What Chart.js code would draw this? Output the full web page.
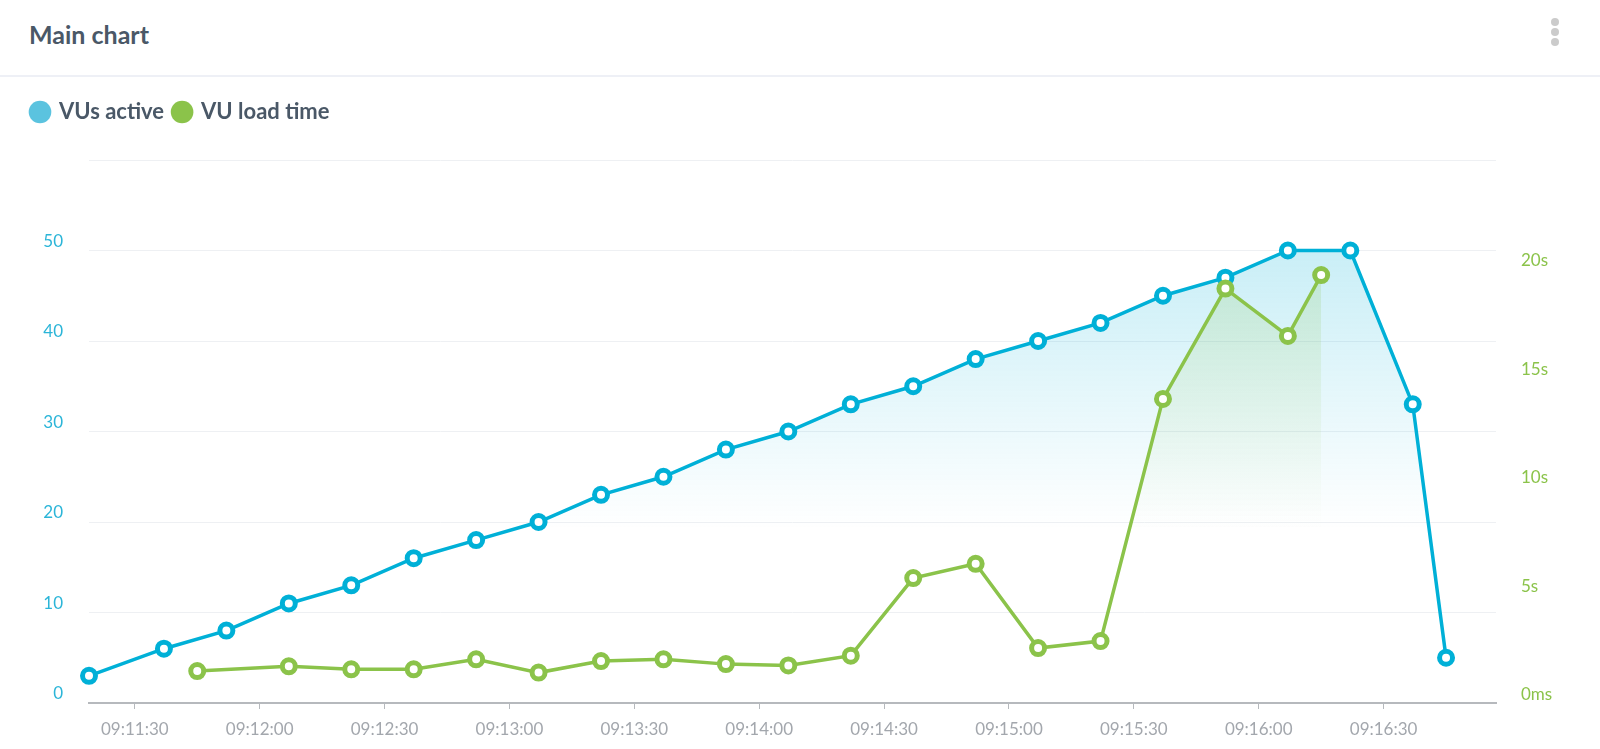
<!DOCTYPE html>
<html lang="en">

<head>
    <meta charset="UTF-8">
    <script src="https://cdn.jsdelivr.net/npm/chart.js"></script>
    <title>Main chart</title>
    <style>
        body {
            margin: 0;
            background: #fff;
            font-family: Lato, "Open Sans", sans-serif;
        }

        #header {
            position: absolute;
            left: 0;
            top: 0;
            width: 1600px;
            height: 75px;
            border-bottom: 2px solid #eef0f6;
        }

        #chart_title {
            position: absolute;
            left: 29px;
            top: 19px;
            margin: 0;
            font-size: 25px;
            line-height: 30px;
            font-weight: 700;
            color: #4a5867;
        }

        #menu_dots {
            position: absolute;
            left: 1551px;
            top: 18px;
        }

        #menu_dots span {
            display: block;
            width: 8px;
            height: 8px;
            margin-bottom: 2px;
            border-radius: 50%;
            background: #cbcbcb;
        }

        #chart_container {
            position: absolute;
            left: 0;
            top: 77px;
            width: 1600px;
            height: 672px;
        }
    </style>
</head>

<body>
    <div id="header">
        <h2 id="chart_title">Main chart</h2>
        <div id="menu_dots"><span></span><span></span><span></span></div>
    </div>
    <div id="chart_container">
        <canvas id="main_chart" width="1600" height="672"></canvas>
    </div>

    <script>
        // VUs active, sampled roughly every 15 seconds
        const vuTimes = ['09:11:19', '09:11:37', '09:11:52', '09:12:07', '09:12:22', '09:12:37', '09:12:52',
            '09:13:07', '09:13:22', '09:13:37', '09:13:52', '09:14:07', '09:14:22', '09:14:37', '09:14:52',
            '09:15:07', '09:15:22', '09:15:37', '09:15:52', '09:16:07', '09:16:22', '09:16:37', '09:16:45'];
        const vuActive = [3, 6, 8, 11, 13, 16, 18, 20, 23, 25, 28, 30, 33, 35, 38, 40, 42, 45, 47, 50, 50, 33, 5];

        // VU load time in milliseconds
        const loadTimes = ['09:11:45', '09:12:07', '09:12:22', '09:12:37', '09:12:52', '09:13:07', '09:13:22',
            '09:13:37', '09:13:52', '09:14:07', '09:14:22', '09:14:37', '09:14:52', '09:15:07', '09:15:22',
            '09:15:37', '09:15:52', '09:16:07', '09:16:15'];
        const loadMs = [1470, 1690, 1550, 1550, 2010, 1400, 1930, 2010, 1790, 1730, 2180, 5750, 6410,
            2530, 2850, 14000, 19080, 16900, 19700];

        // Axis ranges
        const xStart = '09:11:19', xEnd = '09:16:57';
        const vuMax = 60, vuStep = 10;
        const loadMax = 25000, loadStep = 5000;

        const BLUE = '0, 176, 215';
        const GREEN = '139, 195, 74';

        function to_seconds(t) {
            const [h, m, s] = t.split(':').map(Number);
            return h * 3600 + m * 60 + s;
        }

        function to_clock(sec) {
            const pad = n => String(n).padStart(2, '0');
            return pad(Math.floor(sec / 3600)) + ':' + pad(Math.floor(sec / 60) % 60) + ':' + pad(sec % 60);
        }

        function points(times, values) {
            return times.map((t, i) => ({ x: to_seconds(t), y: values[i] }));
        }

        // Vertical gradient that fades out about two thirds down the plot
        function fade(rgb) {
            return (context) => {
                const area = context.chart.chartArea;
                if (!area) return 'transparent';
                const g = context.chart.ctx.createLinearGradient(0, area.top, 0, area.top + (area.bottom - area.top) * 0.68);
                g.addColorStop(0, 'rgba(' + rgb + ', 0.28)');
                g.addColorStop(1, 'rgba(' + rgb + ', 0)');
                return g;
            };
        }

        // Leave some room between the legend and the plot
        const legendGap = {
            id: 'legendGap',
            beforeInit(chart) {
                const fit = chart.legend.fit;
                chart.legend.fit = function () {
                    fit.bind(chart.legend)();
                    this.height += 27;
                };
            }
        };

        const ctx = document.getElementById('main_chart').getContext('2d');
        const mainChart = new Chart(ctx, {
            type: 'line',
            data: {
                datasets: [{
                    label: 'VUs active',
                    data: points(vuTimes, vuActive),
                    yAxisID: 'y',
                    borderColor: 'rgb(' + BLUE + ')',
                    backgroundColor: fade(BLUE),
                    fill: 'origin',
                    borderWidth: 3.5,
                    pointRadius: 6.5,
                    pointBorderWidth: 5,
                    pointBackgroundColor: '#fff',
                    pointBorderColor: 'rgb(' + BLUE + ')',
                    clip: false,
                    order: 2
                }, {
                    label: 'VU load time',
                    data: points(loadTimes, loadMs),
                    yAxisID: 'y1',
                    borderColor: 'rgb(' + GREEN + ')',
                    backgroundColor: fade(GREEN),
                    fill: 'origin',
                    borderWidth: 3.5,
                    pointRadius: 6.5,
                    pointBorderWidth: 5,
                    pointBackgroundColor: '#fff',
                    pointBorderColor: 'rgb(' + GREEN + ')',
                    clip: false,
                    order: 1
                }]
            },
            options: {
                responsive: false,
                animation: false,
                layout: {
                    padding: { top: 14, left: 22, right: 0, bottom: 0 }
                },
                plugins: {
                    tooltip: { enabled: false },
                    legend: {
                        align: 'start',
                        labels: {
                            usePointStyle: true,
                            pointStyle: 'circle',
                            boxWidth: 16,
                            boxHeight: 16,
                            padding: 10,
                            color: '#4a5867',
                            font: { family: 'Lato', size: 22, weight: 'bold' },
                            generateLabels: (chart) => chart.data.datasets.map((ds, i) => ({
                                text: ds.label,
                                fillStyle: i === 0 ? '#5bc3df' : '#8bc34a',
                                strokeStyle: i === 0 ? '#5bc3df' : '#8bc34a',
                                fontColor: '#4a5867',
                                lineWidth: 0,
                                pointStyle: 'circle',
                                datasetIndex: i
                            }))
                        }
                    }
                },
                scales: {
                    x: {
                        type: 'linear',
                        min: to_seconds(xStart),
                        max: to_seconds(xEnd),
                        afterFit: (scale) => { scale.height = 46; },
                        border: { color: '#b6b9bd', width: 2 },
                        grid: { drawOnChartArea: false, tickLength: 6, color: '#b6b9bd' },
                        ticks: {
                            stepSize: 30,
                            includeBounds: false,
                            autoSkip: false,
                            maxRotation: 0,
                            padding: 10,
                            color: '#a3a7ad',
                            font: { family: 'Lato', size: 17 },
                            callback: (v) => to_clock(v)
                        }
                    },
                    y: {
                        position: 'left',
                        min: 0,
                        max: vuMax,
                        afterFit: (scale) => { scale.width = 67; },
                        border: { display: false },
                        grid: { color: '#eef0f3', drawTicks: false },
                        ticks: {
                            stepSize: vuStep,
                            padding: 26,
                            labelOffset: -9,
                            color: '#2bb5d8',
                            font: { family: 'Lato', size: 17 },
                            callback: (v) => v === vuMax ? '' : v
                        }
                    },
                    y1: {
                        position: 'right',
                        min: 0,
                        max: loadMax,
                        afterFit: (scale) => { scale.width = 104; },
                        border: { display: false },
                        grid: { drawOnChartArea: false, drawTicks: false },
                        ticks: {
                            stepSize: loadStep,
                            padding: 25,
                            labelOffset: -8,
                            color: '#8bc34a',
                            font: { family: 'Lato', size: 17 },
                            callback: (v) => v === 0 ? '0ms' : (v === loadMax ? '' : v / 1000 + 's')
                        }
                    }
                }
            },
            plugins: [legendGap]
        });
    </script>
</body>

</html>
